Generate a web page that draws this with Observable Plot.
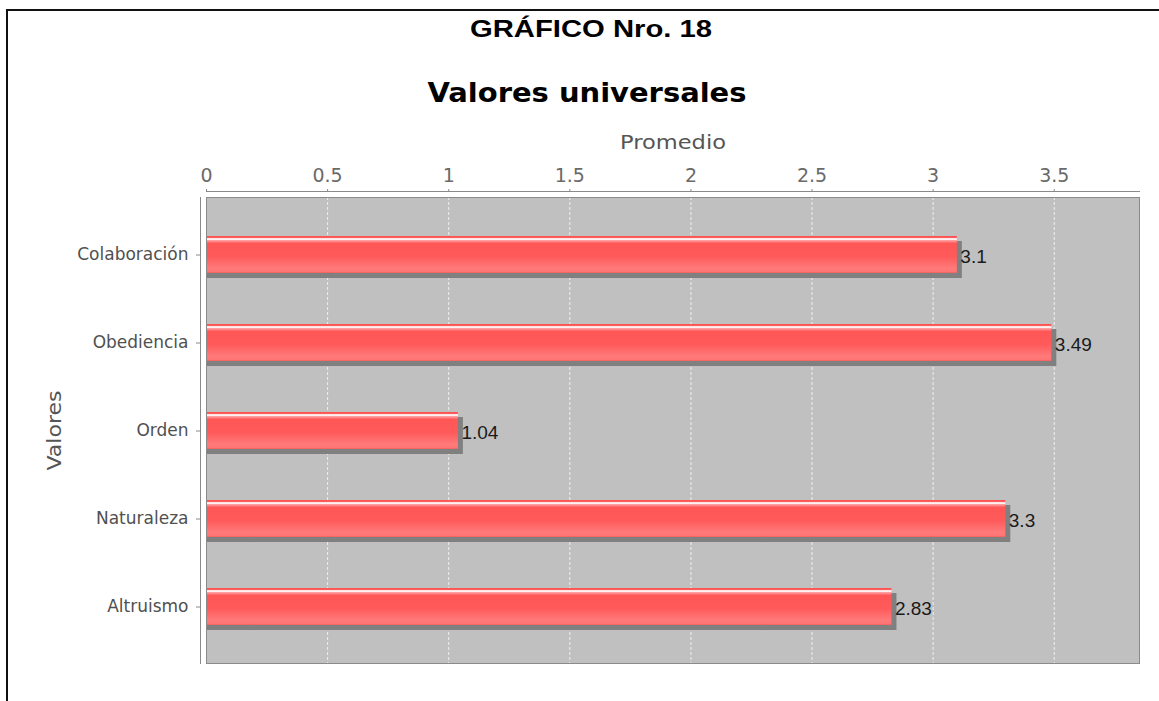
<!DOCTYPE html>
<html><head><meta charset="utf-8">
<script src="https://cdn.jsdelivr.net/npm/d3@7"></script>
<script src="https://cdn.jsdelivr.net/npm/@observablehq/plot@0.6"></script>
<style>
html,body{margin:0;padding:0;background:#fff;}
#wrap{position:relative;width:1159px;height:701px;overflow:hidden;background:#fff;}
#border{position:absolute;left:6px;top:9px;width:1200px;height:800px;border-top:2px solid #111;border-left:2px solid #111;}
.title{position:absolute;white-space:nowrap;line-height:1;color:#000;}
#t1{font-family:"Liberation Sans",Arial,sans-serif;font-weight:bold;font-size:24px;left:591px;top:17px;}
#t2{font-family:"DejaVu Sans",sans-serif;font-weight:bold;font-size:26px;left:587px;top:80px;}
#chart{position:absolute;left:0;top:120px;}
</style></head><body>
<div id="wrap"><div id="border"></div>
<div class="title" id="t1">GRÁFICO Nro. 18</div>
<div class="title" id="t2">Valores universales</div>
<div id="chart"></div></div>
<script>
const categories = ["Colaboración", "Obediencia", "Orden", "Naturaleza", "Altruismo"];
const values = [3.1, 3.49, 1.04, 3.3, 2.83];
const valueLabels = ["3.1", "3.49", "1.04", "3.3", "2.83"];
const xTicks = [0, 0.5, 1, 1.5, 2, 2.5, 3, 3.5];
const xTickLabels = ["0", "0.5", "1", "1.5", "2", "2.5", "3", "3.5"];
const xDomain = [0, 3.852];

const data = categories.map((c, i) => ({category: c, value: values[i], label: valueLabels[i]}));

const chart = Plot.plot({
  width: 1159, height: 581,
  marginTop: 77, marginBottom: 38, marginLeft: 206, marginRight: 20,
  style: {fontFamily: "DejaVu Sans", fontSize: "18px", background: "transparent", overflow: "visible"},
  x: {domain: xDomain, label: null},
  y: {type: "band", domain: categories, paddingInner: 0.585, paddingOuter: 0.431, label: null},
  marks: [
    Plot.frame({fill: "#c0c0c0"}),
    Plot.gridX(xTicks, {stroke: "#f0f0f0", strokeOpacity: 1, strokeDasharray: "3,2", strokeWidth: 1}),
    Plot.barX(data, {x: "value", y: "category", fill: "#808080", dy: 5, insetRight: -5}),
    Plot.barX(data, {x: "value", y: "category", fill: "url(#barGrad)"}),
    Plot.text(data, {x: "value", y: "category", text: "label", textAnchor: "start", dx: 3, dy: 2, fill: "#1a1a1a", fontFamily: "Liberation Sans", fontSize: 19}),
    Plot.frame({stroke: "#8a8a8a"}),
    Plot.frame({anchor: "top", dy: -6, stroke: "#8a8a8a"}),
    Plot.frame({anchor: "left", dx: -6, stroke: "#8a8a8a"}),
    Plot.axisX(xTicks, {anchor: "top", tickSize: 3, tickPadding: 7, dy: -6, stroke: "#8a8a8a", fill: "#6a6a6a", fontSize: 19,
      tickFormat: d => xTickLabels[xTicks.indexOf(d)], label: null}),
    Plot.axisY({anchor: "left", tickSize: 4, tickPadding: 8, dx: -6, stroke: "#8a8a8a", fill: "#505050", fontSize: 17, label: null}),
    Plot.text(["Promedio"], {text: d => d, frameAnchor: "top", textAnchor: "middle", dy: -49, lineAnchor: "bottom", fill: "#555", fontSize: 19}),
    Plot.text(["Valores"], {text: d => d, frameAnchor: "left", textAnchor: "middle", rotate: -90, dx: -146, lineAnchor: "bottom", fill: "#555", fontSize: 20})
  ]
});

// gradient definition for the glossy bars
const NS = "http://www.w3.org/2000/svg";
const defs = document.createElementNS(NS, "defs");
const grad = document.createElementNS(NS, "linearGradient");
grad.setAttribute("id", "barGrad");
grad.setAttribute("x1", "0"); grad.setAttribute("y1", "0");
grad.setAttribute("x2", "0"); grad.setAttribute("y2", "1");
[[0, "#ff5050"], [0.04, "#ff5a5a"], [0.065, "#ffe0e0"], [0.09, "#ffffff"], [0.12, "#ffa0a0"], [0.2, "#ff5656"],
 [0.55, "#ff5a5a"], [0.88, "#ff7a7a"], [0.96, "#ff7474"], [1, "#f06060"]].forEach(([o, c]) => {
  const s = document.createElementNS(NS, "stop");
  s.setAttribute("offset", o); s.setAttribute("stop-color", c);
  grad.appendChild(s);
});
defs.appendChild(grad);
chart.insertBefore(defs, chart.firstChild);

// stretch axis titles to the widths seen in the reference
const stretch = {"Promedio": 106, "Valores": 80};
chart.querySelectorAll("text").forEach(t => {
  const w = stretch[t.textContent];
  if (w) { t.setAttribute("textLength", w); t.setAttribute("lengthAdjust", "spacingAndGlyphs"); }
});

document.getElementById("chart").appendChild(chart);

// titles: center and stretch horizontally
[["t1", 242], ["t2", 319]].forEach(([id, target]) => {
  const el = document.getElementById(id);
  const w = el.getBoundingClientRect().width;
  el.style.transform = `translateX(-50%) scaleX(${target / w})`;
});
</script>
</body></html>
